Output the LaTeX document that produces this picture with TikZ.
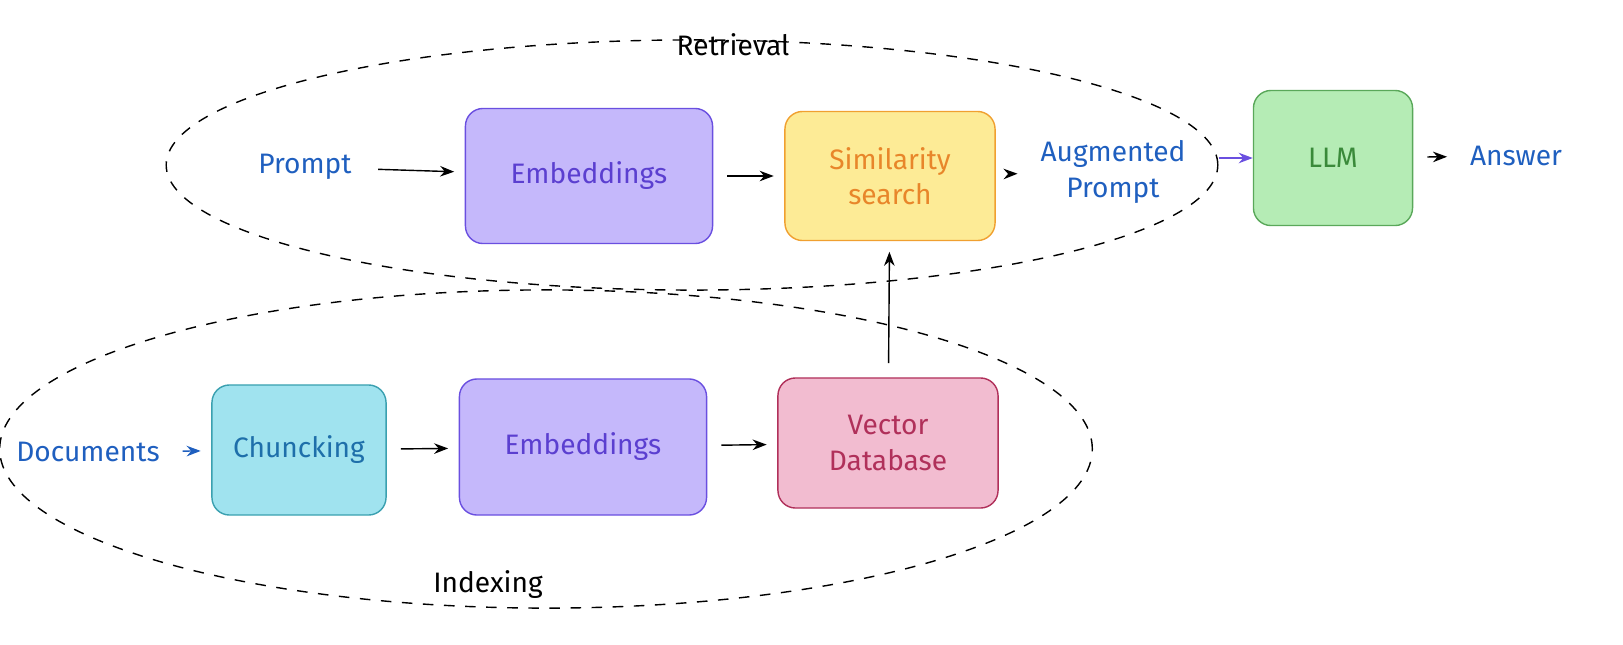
\documentclass[tikz,border=0pt]{standalone}
\usepackage{fontspec}
\setmainfont{Fira Sans}
\usetikzlibrary{arrows.meta,positioning,shapes}
\definecolor{txtblue}{HTML}{1F5FBF}
\definecolor{embfill}{HTML}{C5B8FB}
\definecolor{embdraw}{HTML}{6A4FE0}
\definecolor{embtxt}{HTML}{5B3FD0}
\definecolor{simfill}{HTML}{FDEB96}
\definecolor{simdraw}{HTML}{F0A030}
\definecolor{simtxt}{HTML}{E8862A}
\definecolor{llmfill}{HTML}{B5ECB5}
\definecolor{llmdraw}{HTML}{5AA85A}
\definecolor{llmtxt}{HTML}{3A8A3A}
\definecolor{chkfill}{HTML}{A0E3EF}
\definecolor{chkdraw}{HTML}{3AA0B0}
\definecolor{chktxt}{HTML}{1E6FAA}
\definecolor{vdbfill}{HTML}{F2BCD0}
\definecolor{vdbdraw}{HTML}{B0305A}
\begin{document}
\begin{tikzpicture}
          [x=0.01cm,y=-0.01cm,
            every node/.style={font=\fontsize{8}{10}\selectfont},
            box/.style={rectangle,rounded corners=5pt,draw,align=center},
            word/.style={text=txtblue,align=center},
            group/.style={ellipse,draw,dashed,thin},
            arr/.style={-{Stealth[length=4pt]},thin}]
          \useasboundingbox (0,0) rectangle (1623,645);
          % groups
          \node[group,minimum width=10.51cm,minimum height=2.5cm] (ret) at (692,165) {};
          \node[group,minimum width=10.92cm,minimum height=3.18cm] (idx) at (546,449) {};
          \node (retl) at (733,45) {Retrieval};
          \node (idxl) at (488,585) {Indexing};
          % retrieval
          \node[word] (prompt) at (305,167) {Prompt};
          \node[box,fill=embfill,draw=embdraw,text=embtxt,minimum width=2.47cm,minimum height=1.35cm] (emb1) at (589,176) {Embeddings};
          \node[box,fill=simfill,draw=simdraw,text=simtxt,minimum width=2.1cm,minimum height=1.29cm] (sim) at (890,176) {Similarity\\search};
          \node[word] (aug) at (1113,172) {Augmented\\Prompt};
          \node[box,fill=llmfill,draw=llmdraw,text=llmtxt,minimum width=1.59cm,minimum height=1.35cm] (llm) at (1333,158) {LLM};
          \node[word] (ans) at (1516,156) {Answer};
          % indexing
          \node[word] (docs) at (88,452) {Documents};
          \node[box,fill=chkfill,draw=chkdraw,text=chktxt,minimum width=1.74cm,minimum height=1.3cm] (chk) at (299,450) {Chuncking};
          \node[box,fill=embfill,draw=embdraw,text=embtxt,minimum width=2.47cm,minimum height=1.36cm] (emb2) at (583,447) {Embeddings};
          \node[box,fill=vdbfill,draw=vdbdraw,text=vdbdraw,minimum width=2.2cm,minimum height=1.3cm] (vdb) at (888,443) {Vector\\Database};
          \foreach \from/\to in {prompt/emb1,emb1/sim,sim/aug,llm/ans,chk/emb2,emb2/vdb,vdb/sim}
          \draw[arr,shorten <=4pt,shorten >=3pt] (\from) -- (\to);
          \draw[arr,embdraw] (ret.east |- llm) -- (llm);
          \draw[arr,txtblue,shorten <=3pt,shorten >=3pt] (docs) -- (chk);
        \end{tikzpicture}
\end{document}
